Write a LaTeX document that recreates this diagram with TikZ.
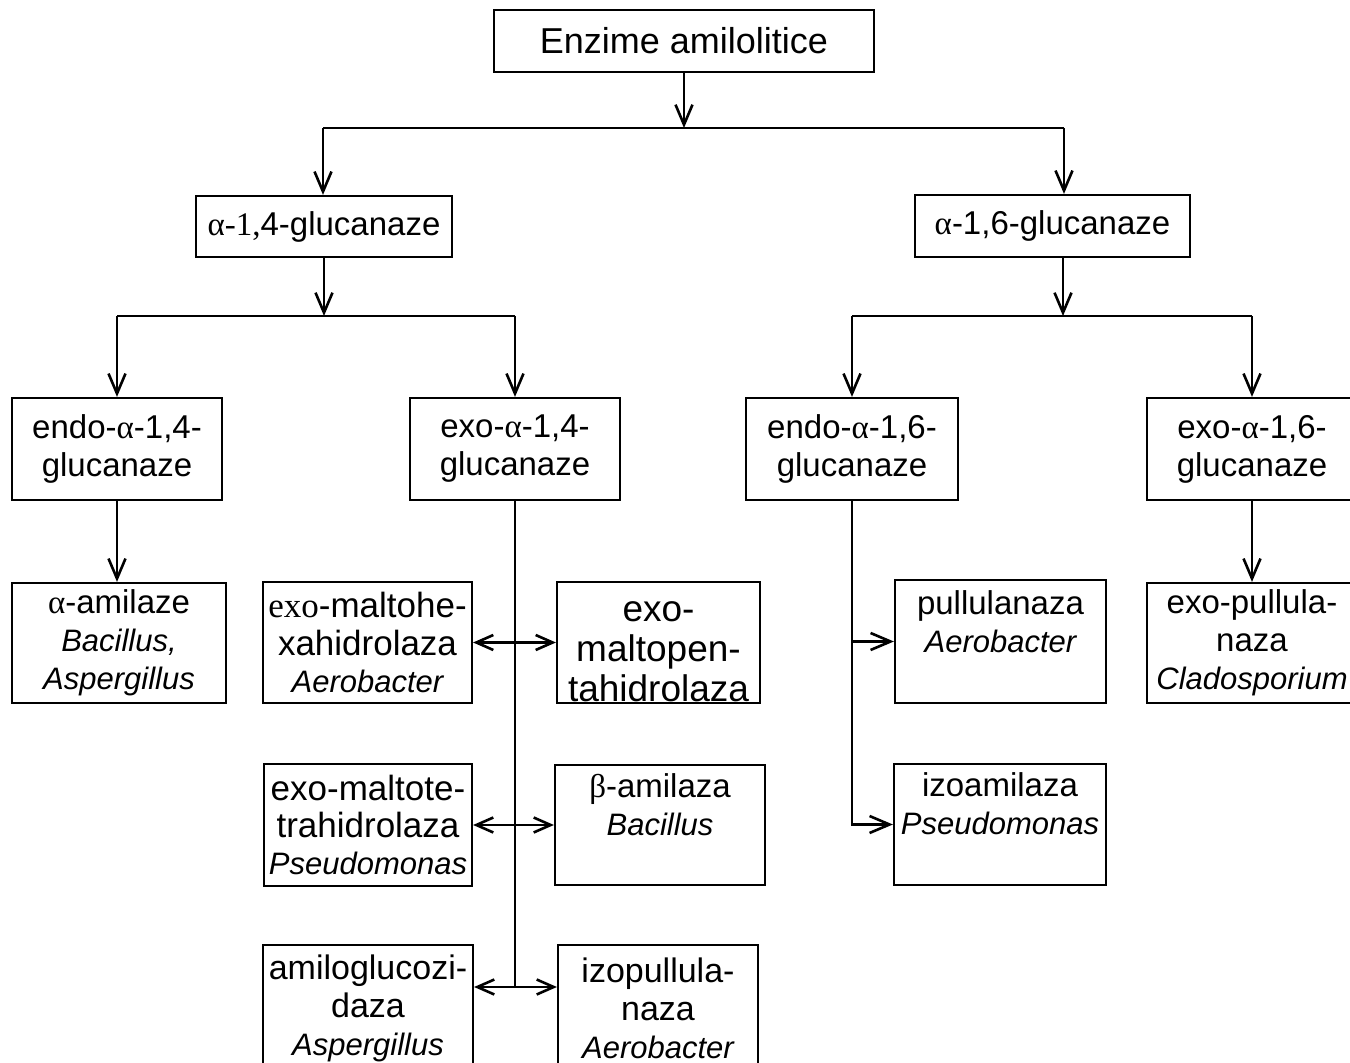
\documentclass[tikz,border=0pt]{standalone}
\usepackage{fontspec}
\setmainfont{Liberation Sans}
\newfontfamily\grk{Liberation Serif}
\usetikzlibrary{arrows.meta}
\newcommand\ga{{\grk α}}
\newcommand\gb{{\grk β}}
\newcommand\genus[1]{{\fontsize{15.5}{19}\selectfont\itshape #1}}
% text block moved vertically inside its box, box size unchanged
\newcommand\shifted[2]{\raisebox{#1}[\height][\depth]{\begin{tabular}{@{}c@{}}#2\end{tabular}}}

\begin{document}
\begin{tikzpicture}[x=0.5pt,y=-0.5pt,
  box/.style={draw, line width=1.1pt, rectangle, inner sep=0pt, align=center,
    font=\fontsize{16.5}{19}\selectfont},
  sz/.style 2 args={minimum width=#1*0.5pt, minimum height=#2*0.5pt},
  link/.style={line width=1.3pt},
  arr/.style={link, -{Straight Barb[length=10pt,width=8.5pt]}},
  darr/.style={link, {Straight Barb[length=8.5pt,width=7.5pt]}-{Straight Barb[length=8.5pt,width=7.5pt]}},
]
\useasboundingbox[fill=white] (0,0) rectangle (1350,1063);

% root
\node[box, sz={380}{62}, font=\fontsize{18}{21}\selectfont] (top) at (684,41) {Enzime amilolitice};

% first split
\node[box, sz={256}{61}] (a14) at (324,226.5) {{\grk α-1,}4-glucanaze};
\node[box, sz={275}{62}] (a16) at (1052.5,226) {\ga-1,6-glucanaze};

% second split
\node[box, sz={210}{102}] (en14) at (117,449) {endo-\ga-1,4-\\glucanaze};
\node[box, sz={210}{102}] (ex14) at (515,449) {exo-\ga-1,4-\\glucanaze};
\node[box, sz={212}{102}] (en16) at (852,449) {endo-\ga-1,6-\\glucanaze};
\node[box, sz={210}{102}] (ex16) at (1252,449) {exo-\ga-1,6-\\glucanaze};

% enzymes
\node[box, sz={214}{120}] (amil) at (119,643) {\ga-amilaze\\\genus{Bacillus,}\\\genus{Aspergillus}};
\node[box, sz={209}{121}, font=\fontsize{17.5}{18.7}\selectfont] (hexa) at (367.5,642.5) {{\grk exo}-maltohe-\\xahidrolaza\\\genus{Aerobacter}};
\node[box, sz={203}{121}] (penta) at (658.5,642.5)
  {\fontsize{18.5}{20}\selectfont\shifted{-5.5pt}{exo-\\maltopen-\\tahidrolaza}};
\node[box, sz={211}{123}] (pull) at (1000.5,641.5) {\shifted{8pt}{pullulanaza\\\genus{Aerobacter}}};
\node[box, sz={210}{120}] (expul) at (1252,643) {exo-pullula-\\naza\\\genus{Cladosporium}};

\node[box, sz={208}{122}, font=\fontsize{17.5}{18.5}\selectfont] (tetra) at (368,825) {exo-maltote-\\trahidrolaza\\\genus{Pseudomonas}};
\node[box, sz={210}{120}] (beta) at (660,825) {\shifted{8pt}{\gb-amilaza\\\genus{Bacillus}}};
\node[box, sz={212}{121}] (izo) at (1000,824.5) {\shifted{8.5pt}{izoamilaza\\\genus{Pseudomonas}}};

\node[box, sz={210}{126}, font=\fontsize{17}{19}\selectfont] (amylo) at (368,1008) {amiloglucozi-\\daza\\\genus{Aspergillus}};
\node[box, sz={200}{126}, font=\fontsize{17}{19}\selectfont] (izopul) at (658,1008) {izopullula-\\naza\\\genus{Aerobacter}};

% junction points
\coordinate (j0) at (684,128);
\coordinate (j1L) at (323,128);
\coordinate (j1R) at (1064,128);
\coordinate (j2) at (324,316);
\coordinate (j3) at (1063,316);
\coordinate (s1) at (515,987);

% root to first split
\draw[arr] (top.south) -- (j0);
\draw[link] (j1L) -- (j1R);
\draw[arr] (j1L) -- (j1L |- a14.north);
\draw[arr] (j1R) -- (j1R |- a16.north);

% alpha-1,4 branch
\draw[arr] (a14.south) -- (j2);
\draw[link] (en14.north |- j2) -- (ex14.north |- j2);
\draw[arr] (en14.north |- j2) -- (en14.north);
\draw[arr] (ex14.north |- j2) -- (ex14.north);

% alpha-1,6 branch
\draw[arr] (j3 |- a16.south) -- (j3);
\draw[link] (en16.north |- j3) -- (ex16.north |- j3);
\draw[arr] (en16.north |- j3) -- (en16.north);
\draw[arr] (ex16.north |- j3) -- (ex16.north);

% leaves
\draw[arr] (en14.south) -- (en14.south |- amil.north);
\draw[arr] (ex16.south) -- (ex16.south |- expul.north);

\draw[link] (ex14.south) -- (s1);
\draw[darr] (hexa) -- (penta);
\draw[darr] (tetra) -- (beta);
\draw[darr] (amylo.east |- s1) -- (izopul.west |- s1);

\draw[arr] (en16.south) |- (izo.west);
\draw[arr] (en16.south |- pull.west) -- (pull.west);
\end{tikzpicture}
\end{document}
